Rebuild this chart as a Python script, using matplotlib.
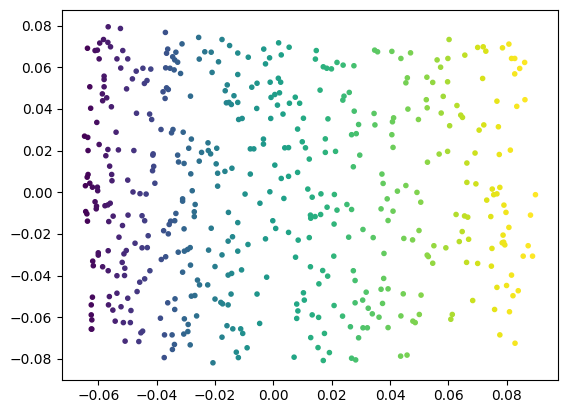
import numpy as np
import matplotlib
matplotlib.use('Agg')
import matplotlib.pyplot as plt
from matplotlib.colors import FuncNorm

# points, (x, y), grouped by region
upper_left = [
    (-0.0566, 0.0794), (-0.0524, 0.0786), (-0.0582, 0.0733), (-0.0595, 0.0716), (-0.0567, 0.0719),
    (-0.0558, 0.0698), (-0.0637, 0.0691), (-0.0611, 0.0680), (-0.0603, 0.0682), (-0.0516, 0.0680),
    (-0.0597, 0.0640), (-0.0536, 0.0640), (-0.0499, 0.0640), (-0.0523, 0.0596), (-0.0580, 0.0557),
    (-0.0580, 0.0541), (-0.0470, 0.0581), (-0.0447, 0.0595), (-0.0420, 0.0591), (-0.0483, 0.0544),
    (-0.0433, 0.0536), (-0.0442, 0.0522), (-0.0629, 0.0506), (-0.0580, 0.0506), (-0.0503, 0.0496),
    (-0.0586, 0.0472), (-0.0571, 0.0453), (-0.0585, 0.0439), (-0.0555, 0.0410), (-0.0626, 0.0403),
    (-0.0469, 0.0379), (-0.0424, 0.0375), (-0.0417, 0.0349), (-0.0605, 0.0335), (-0.0539, 0.0288),
    (-0.0647, 0.0269), (-0.0636, 0.0263), (-0.0597, 0.0229), (-0.0567, 0.0205), (-0.0531, 0.0203),
    (-0.0478, 0.0200), (-0.0635, 0.0200), (-0.0574, 0.0175), (-0.0412, 0.0184), (-0.0413, 0.0178),
    (-0.0561, 0.0125), (-0.0410, 0.0124), (-0.0414, 0.0103), (-0.0554, 0.0085), (-0.0635, 0.0085),
    (-0.0638, 0.0072), (-0.0553, 0.0055), (-0.0499, 0.0058), (-0.0406, 0.0043), (-0.0629, 0.0043),
    (-0.0644, 0.0031), (-0.0620, 0.0024), (-0.0603, 0.0024), (-0.0602, 0.0007), (-0.0481, 0.0001),
    (-0.0457, -0.0007), (-0.0436, -0.0009), (-0.0370, 0.0767), (-0.0256, 0.0743), (-0.0176, 0.0733),
    (-0.0150, 0.0704), (-0.0313, 0.0712), (-0.0362, 0.0687), (-0.0366, 0.0667), (-0.0334, 0.0672),
    (-0.0235, 0.0674), (-0.0213, 0.0672), (-0.0345, 0.0650), (-0.0338, 0.0635), (-0.0328, 0.0624),
    (-0.0254, 0.0639), (-0.0188, 0.0626), (-0.0369, 0.0597), (-0.0354, 0.0595), (-0.0340, 0.0587),
    (-0.0318, 0.0570), (-0.0210, 0.0575), (-0.0158, 0.0515), (-0.0165, 0.0487), (-0.0366, 0.0501),
    (-0.0360, 0.0493), (-0.0378, 0.0482), (-0.0284, 0.0461), (-0.0371, 0.0450), (-0.0161, 0.0429),
    (-0.0152, 0.0431), (-0.0385, 0.0301), (-0.0344, 0.0301), (-0.0349, 0.0285), (-0.0309, 0.0288),
    (-0.0281, 0.0255), (-0.0290, 0.0211), (-0.0224, 0.0237), (-0.0223, 0.0200), (-0.0194, 0.0211),
    (-0.0246, 0.0191), (-0.0215, 0.0184), (-0.0328, 0.0178), (-0.0325, 0.0145), (-0.0306, 0.0138),
    (-0.0254, 0.0149), (-0.0196, 0.0136), (-0.0283, 0.0088), (-0.0191, 0.0091), (-0.0166, 0.0100),
    (-0.0191, 0.0029), (-0.0278, 0.0007),
]
lower_left = [
    (-0.0611, -0.0046), (-0.0559, -0.0053), (-0.0567, -0.0061), (-0.0577, -0.0065), (-0.0606, -0.0067),
    (-0.0607, -0.0080), (-0.0311, -0.0032), (-0.0311, -0.0043), (-0.0268, -0.0059), (-0.0271, -0.0094),
    (-0.0271, -0.0117), (-0.0154, -0.0097), (-0.0643, -0.0093), (-0.0639, -0.0104), (-0.0637, -0.0139),
    (-0.0549, -0.0115), (-0.0498, -0.0110), (-0.0450, -0.0113), (-0.0441, -0.0137), (-0.0564, -0.0141),
    (-0.0517, -0.0160), (-0.0334, -0.0102), (-0.0338, -0.0137), (-0.0352, -0.0139), (-0.0357, -0.0155),
    (-0.0376, -0.0185), (-0.0360, -0.0200), (-0.0306, -0.0176), (-0.0213, -0.0173), (-0.0529, -0.0216),
    (-0.0429, -0.0209), (-0.0474, -0.0245), (-0.0450, -0.0267), (-0.0432, -0.0266), (-0.0155, -0.0235),
    (-0.0504, -0.0280), (-0.0512, -0.0296), (-0.0566, -0.0281), (-0.0600, -0.0291), (-0.0600, -0.0302),
    (-0.0285, -0.0266), (-0.0294, -0.0275), (-0.0305, -0.0283), (-0.0326, -0.0288), (-0.0222, -0.0278),
    (-0.0176, -0.0301), (-0.0369, -0.0310), (-0.0384, -0.0323), (-0.0619, -0.0331), (-0.0617, -0.0353),
    (-0.0585, -0.0358), (-0.0566, -0.0377), (-0.0518, -0.0337), (-0.0509, -0.0365), (-0.0536, -0.0401),
    (-0.0510, -0.0400), (-0.0423, -0.0377), (-0.0441, -0.0416), (-0.0458, -0.0432), (-0.0284, -0.0350),
    (-0.0200, -0.0357), (-0.0311, -0.0384), (-0.0155, -0.0398), (-0.0260, -0.0422), (-0.0253, -0.0445),
    (-0.0225, -0.0445), (-0.0467, -0.0477), (-0.0536, -0.0485), (-0.0562, -0.0501), (-0.0620, -0.0504),
    (-0.0499, -0.0509), (-0.0269, -0.0496), (-0.0281, -0.0499), (-0.0337, -0.0512), (-0.0362, -0.0531),
    (-0.0200, -0.0513), (-0.0180, -0.0529), (-0.0174, -0.0536), (-0.0155, -0.0541), (-0.0624, -0.0541),
    (-0.0565, -0.0541), (-0.0522, -0.0550), (-0.0550, -0.0566), (-0.0488, -0.0568), (-0.0338, -0.0563),
    (-0.0624, -0.0589), (-0.0622, -0.0613), (-0.0263, -0.0594), (-0.0387, -0.0605), (-0.0305, -0.0608),
    (-0.0542, -0.0619), (-0.0514, -0.0626), (-0.0490, -0.0626), (-0.0292, -0.0635), (-0.0159, -0.0641),
    (-0.0624, -0.0657), (-0.0622, -0.0657), (-0.0448, -0.0667), (-0.0454, -0.0675), (-0.0293, -0.0669),
    (-0.0307, -0.0681), (-0.0373, -0.0685), (-0.0347, -0.0685), (-0.0176, -0.0696), (-0.0508, -0.0715),
    (-0.0461, -0.0717), (-0.0339, -0.0731), (-0.0285, -0.0733), (-0.0346, -0.0755), (-0.0374, -0.0794),
    (-0.0207, -0.0819),
]
upper_mid = [
    (-0.0122, 0.0668), (-0.0086, 0.0648), (-0.0033, 0.0687), (0.0018, 0.0717), (0.0054, 0.0696),
    (-0.0013, 0.0645), (0.0027, 0.0659), (-0.0027, 0.0616), (0.0147, 0.0680), (0.0144, 0.0639),
    (0.0218, 0.0623), (0.0239, 0.0610), (0.0276, 0.0607), (0.0171, 0.0602), (0.0183, 0.0595),
    (0.0199, 0.0592), (0.0347, 0.0682), (0.0357, 0.0674), (-0.0122, 0.0565), (-0.0074, 0.0504),
    (-0.0056, 0.0523), (-0.0011, 0.0528), (0.0017, 0.0547), (0.0025, 0.0528), (-0.0135, 0.0463),
    (-0.0144, 0.0421), (-0.0122, 0.0431), (-0.0008, 0.0455), (0.0005, 0.0469), (0.0021, 0.0477),
    (0.0075, 0.0456), (0.0055, 0.0427), (0.0090, 0.0427), (0.0014, 0.0418), (-0.0057, 0.0402),
    (0.0160, 0.0490), (0.0260, 0.0479), (0.0242, 0.0461), (0.0238, 0.0442), (0.0033, 0.0375),
    (-0.0009, 0.0354), (0.0103, 0.0355), (0.0187, 0.0352), (0.0277, 0.0389), (0.0345, 0.0378),
    (-0.0119, 0.0349), (-0.0107, 0.0354), (0.0292, 0.0325), (0.0348, 0.0323), (0.0083, 0.0303),
    (0.0268, 0.0276), (0.0284, 0.0281), (-0.0034, 0.0255), (-0.0034, 0.0231), (0.0178, 0.0256),
    (0.0099, 0.0242), (-0.0079, 0.0208), (-0.0067, 0.0208), (0.0039, 0.0213), (0.0052, 0.0214),
    (0.0110, 0.0213), (0.0178, 0.0191), (0.0213, 0.0196), (0.0296, 0.0178), (0.0123, 0.0159),
    (0.0005, 0.0130), (0.0274, 0.0122), (-0.0142, 0.0115), (-0.0079, 0.0087), (0.0083, 0.0095),
    (0.0052, 0.0076), (0.0027, 0.0066), (0.0372, 0.0087), (0.0376, 0.0042), (0.0118, 0.0015),
    (-0.0012, 0.0002), (-0.0097, -0.0009), (0.0163, -0.0008), (0.0209, -0.0011),
]
lower_mid = [
    (0.0133, -0.0024), (-0.0046, -0.0053), (0.0036, -0.0030), (0.0390, -0.0032), (0.0252, -0.0059),
    (0.0184, -0.0072), (0.0218, -0.0086), (0.0268, -0.0083), (0.0369, -0.0080), (0.0127, -0.0110),
    (0.0143, -0.0117), (0.0162, -0.0107), (0.0128, -0.0125), (0.0393, -0.0136), (-0.0122, -0.0146),
    (-0.0002, -0.0137), (0.0208, -0.0153), (0.0008, -0.0174), (0.0052, -0.0193), (0.0085, -0.0230),
    (0.0123, -0.0218), (0.0307, -0.0179), (0.0258, -0.0216), (0.0342, -0.0218), (-0.0140, -0.0214),
    (-0.0027, -0.0224), (-0.0087, -0.0251), (-0.0122, -0.0283), (0.0076, -0.0312), (0.0207, -0.0307),
    (0.0379, -0.0294), (0.0127, -0.0358), (-0.0109, -0.0373), (-0.0143, -0.0390), (0.0169, -0.0376),
    (0.0186, -0.0403), (0.0274, -0.0377), (-0.0023, -0.0408), (0.0280, -0.0424), (0.0378, -0.0414),
    (0.0156, -0.0440), (0.0369, -0.0466), (0.0393, -0.0464), (0.0318, -0.0480), (-0.0145, -0.0489),
    (-0.0056, -0.0489), (0.0103, -0.0483), (0.0106, -0.0518), (0.0306, -0.0518), (0.0280, -0.0531),
    (0.0374, -0.0534), (0.0080, -0.0537), (0.0208, -0.0544), (0.0325, -0.0557), (0.0084, -0.0570),
    (0.0339, -0.0584), (0.0133, -0.0589), (0.0155, -0.0601), (0.0237, -0.0595), (0.0362, -0.0600),
    (0.0080, -0.0606), (-0.0047, -0.0630), (-0.0139, -0.0656), (-0.0112, -0.0656), (-0.0105, -0.0678),
    (0.0264, -0.0646), (0.0307, -0.0651), (0.0322, -0.0651), (0.0393, -0.0650), (0.0175, -0.0678),
    (0.0128, -0.0698), (0.0292, -0.0699), (-0.0090, -0.0747), (0.0153, -0.0746), (-0.0127, -0.0768),
    (0.0192, -0.0770), (-0.0120, -0.0794), (0.0071, -0.0792), (0.0171, -0.0808), (0.0268, -0.0797),
    (0.0282, -0.0805),
]
upper_right = [
    (0.0406, 0.0676), (0.0470, 0.0669), (0.0437, 0.0642), (0.0602, 0.0733), (0.0561, 0.0635),
    (0.0598, 0.0642), (0.0573, 0.0600), (0.0656, 0.0658), (0.0700, 0.0695), (0.0719, 0.0698),
    (0.0728, 0.0677), (0.0785, 0.0693), (0.0807, 0.0711), (0.0816, 0.0642), (0.0827, 0.0642),
    (0.0861, 0.0623), (0.0844, 0.0594), (0.0827, 0.0568), (0.0459, 0.0549), (0.0454, 0.0525),
    (0.0526, 0.0552), (0.0546, 0.0527), (0.0597, 0.0530), (0.0717, 0.0546), (0.0524, 0.0444),
    (0.0582, 0.0460), (0.0527, 0.0405), (0.0461, 0.0399), (0.0629, 0.0416), (0.0575, 0.0380),
    (0.0642, 0.0370), (0.0648, 0.0359), (0.0766, 0.0437), (0.0862, 0.0444), (0.0834, 0.0412),
    (0.0412, 0.0357), (0.0408, 0.0338), (0.0497, 0.0349), (0.0604, 0.0319), (0.0721, 0.0323),
    (0.0705, 0.0298), (0.0771, 0.0314), (0.0406, 0.0276), (0.0410, 0.0215), (0.0568, 0.0183),
    (0.0597, 0.0196), (0.0691, 0.0188), (0.0774, 0.0181), (0.0812, 0.0202), (0.0528, 0.0144),
    (0.0663, 0.0140), (0.0454, 0.0032), (0.0425, 0.0005), (0.0492, -0.0001), (0.0663, 0.0047),
    (0.0694, 0.0040), (0.0750, 0.0015), (0.0776, 0.0023), (0.0766, -0.0008), (0.0755, -0.0012),
    (0.0898, -0.0012),
]
lower_right = [
    (0.0505, -0.0048), (0.0731, -0.0038), (0.0790, -0.0062), (0.0410, -0.0091), (0.0626, -0.0107),
    (0.0655, -0.0114), (0.0666, -0.0120), (0.0745, -0.0117), (0.0797, -0.0097), (0.0881, -0.0110),
    (0.0807, -0.0169), (0.0647, -0.0189), (0.0499, -0.0184), (0.0447, -0.0222), (0.0477, -0.0229),
    (0.0637, -0.0237), (0.0669, -0.0226), (0.0787, -0.0206), (0.0550, -0.0257), (0.0591, -0.0267),
    (0.0749, -0.0270), (0.0784, -0.0243), (0.0789, -0.0240), (0.0793, -0.0253), (0.0873, -0.0257),
    (0.0527, -0.0302), (0.0531, -0.0309), (0.0856, -0.0307), (0.0888, -0.0307), (0.0546, -0.0341),
    (0.0662, -0.0337), (0.0700, -0.0342), (0.0747, -0.0355), (0.0816, -0.0398), (0.0766, -0.0457),
    (0.0799, -0.0448), (0.0839, -0.0473), (0.0821, -0.0497), (0.0445, -0.0488), (0.0506, -0.0494),
    (0.0683, -0.0520), (0.0758, -0.0563), (0.0809, -0.0574), (0.0437, -0.0594), (0.0500, -0.0587),
    (0.0613, -0.0587), (0.0608, -0.0610), (0.0478, -0.0619), (0.0486, -0.0626), (0.0776, -0.0685),
    (0.0828, -0.0725), (0.0436, -0.0787), (0.0458, -0.0782),
]

# colour position along viridis at a few x values
color_x = [-0.065, -0.05, -0.04, -0.03, -0.02, -0.01, 0.0, 0.0125, 0.02, 0.03, 0.04, 0.05, 0.06, 0.07, 0.08, 0.09]
color_t = [0.0, 0.13, 0.22, 0.33, 0.42, 0.5, 0.55, 0.62, 0.65, 0.72, 0.77, 0.81, 0.87, 0.93, 0.98, 1.0]

pts = np.array(upper_left + lower_left + upper_mid + lower_mid + upper_right + lower_right)
x = pts[:, 0]
y = pts[:, 1]

norm = FuncNorm((lambda v: np.interp(v, color_x, color_t), lambda t: np.interp(t, color_t, color_x)), vmin=-0.065, vmax=0.09)

fig = plt.figure(figsize=(5.68, 4.13), dpi=100)
ax = fig.add_axes([62 / 568, (413 - 379.6) / 413, 496 / 568, 369.6 / 413])
ax.scatter(x, y, c=x, cmap='viridis', norm=norm, s=9)
fig.savefig('out.png', dpi=100)
